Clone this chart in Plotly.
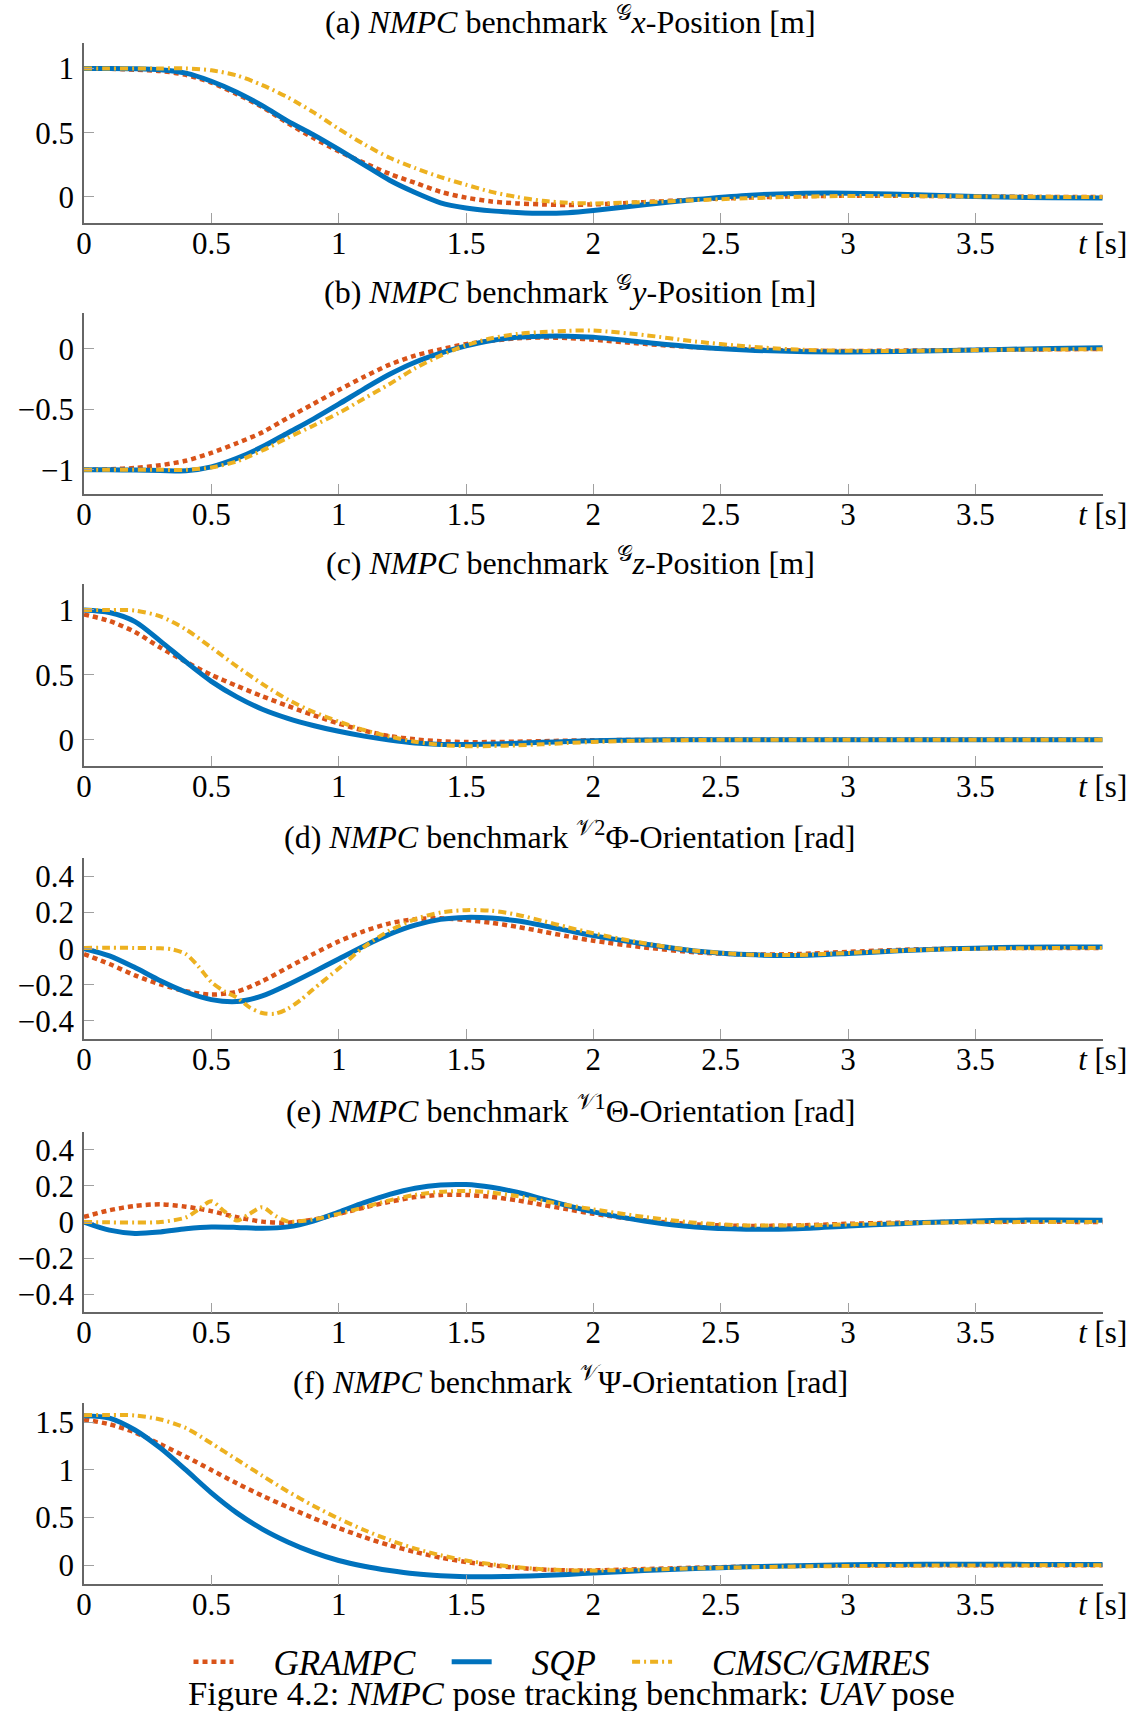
import plotly.graph_objects as go

W, H = 1136, 1711
FONT = "Liberation Serif"
C_GR = "#D95319"
C_SQP = "#0072BD"
C_CM = "#EDB120"

# ---------------- data ----------------
T = [0, 0.1, 0.2, 0.3, 0.4, 0.5, 0.6, 0.7, 0.8, 0.9, 1.0, 1.1, 1.2, 1.3, 1.4, 1.5,
     1.6, 1.7, 1.8, 1.9, 2.0, 2.2, 2.4, 2.6, 2.8, 3.0, 3.2, 3.4, 3.6, 3.8, 4.0]

# (a) x-position
a_gr = [1.0, 0.998, 0.99, 0.98, 0.95, 0.89, 0.80, 0.70, 0.575, 0.46, 0.355, 0.265, 0.18, 0.11, 0.04, -0.005,
        -0.035, -0.05, -0.058, -0.062, -0.058, -0.04, -0.02, -0.005, 0.005, 0.01, 0.01, 0.006, 0.003, 0.0, 0.0]
a_sqp = [1.0, 1.0, 0.998, 0.99, 0.963, 0.90, 0.815, 0.71, 0.59, 0.485, 0.37, 0.25, 0.13, 0.035, -0.045, -0.085,
         -0.108, -0.12, -0.127, -0.122, -0.105, -0.06, -0.02, 0.012, 0.028, 0.03, 0.022, 0.01, 0.0, -0.006, -0.008]
a_cm = [1.0, 1.0, 1.0, 1.0, 1.0, 0.985, 0.945, 0.87, 0.775, 0.66, 0.53, 0.41, 0.305, 0.225, 0.155, 0.095,
        0.04, 0.0, -0.03, -0.045, -0.05, -0.04, -0.025, -0.01, 0.002, 0.008, 0.008, 0.005, 0.003, 0.001, 0.0]

# (b) y-position
b_gr = [-1.0, -0.995, -0.985, -0.962, -0.925, -0.86, -0.78, -0.69, -0.57, -0.455, -0.34, -0.23, -0.13, -0.055,
        -0.003, 0.04, 0.068, 0.088, 0.095, 0.09, 0.077, 0.042, 0.014, -0.003, -0.013, -0.017, -0.014, -0.01,
        -0.006, -0.003, 0.0]
b_sqp = [-1.0, -1.0, -1.002, -1.005, -1.008, -0.975, -0.905, -0.81, -0.695, -0.58, -0.457, -0.33, -0.21, -0.11,
         -0.035, 0.025, 0.07, 0.096, 0.105, 0.106, 0.098, 0.055, 0.016, -0.008, -0.022, -0.025, -0.02, -0.012,
         -0.004, 0.004, 0.01]
b_cm = [-1.0, -1.0, -1.0, -1.0, -1.0, -0.98, -0.93, -0.84, -0.735, -0.635, -0.53, -0.41, -0.29, -0.16,
        -0.055, 0.03, 0.088, 0.124, 0.14, 0.15, 0.152, 0.115, 0.062, 0.022, -0.005, -0.015, -0.016, -0.012,
        -0.007, -0.004, -0.002]

# (c) z-position
c_gr = [0.965, 0.915, 0.83, 0.71, 0.60, 0.50, 0.415, 0.335, 0.26, 0.19, 0.125, 0.07, 0.028, 0.003, -0.012,
        -0.018, -0.018, -0.015, -0.011, -0.007, -0.004, -0.002, 0.0, 0.0, 0.0, 0.0, 0.0, 0.0, 0.0, 0.0, 0.0]
c_sqp = [1.0, 0.98, 0.91, 0.76, 0.60, 0.45, 0.33, 0.235, 0.165, 0.11, 0.065, 0.028, -0.002, -0.025, -0.036,
         -0.037, -0.033, -0.027, -0.02, -0.013, -0.007, -0.002, 0.0, 0.0, 0.0, 0.0, 0.0, 0.0, 0.0, 0.0, 0.0]
c_cm = [1.0, 1.0, 0.995, 0.95, 0.85, 0.71, 0.565, 0.43, 0.31, 0.215, 0.14, 0.075, 0.025, -0.015, -0.04, -0.05,
        -0.048, -0.043, -0.035, -0.025, -0.017, -0.007, -0.002, 0.0, 0.0, 0.0, 0.0, 0.0, 0.0, 0.0, 0.0]

# (d) roll
d_gr = [-0.03, -0.085, -0.148, -0.198, -0.235, -0.254, -0.238, -0.18, -0.105, -0.03, 0.04, 0.097, 0.14, 0.163,
        0.168, 0.158, 0.143, 0.121, 0.095, 0.068, 0.044, 0.007, -0.02, -0.032, -0.03, -0.018, -0.007, 0.0,
        0.003, 0.004, 0.004]
d_sqp = [0.0, -0.04, -0.105, -0.178, -0.24, -0.282, -0.293, -0.262, -0.2, -0.13, -0.057, 0.015, 0.08, 0.13,
         0.162, 0.173, 0.169, 0.154, 0.128, 0.1, 0.072, 0.026, -0.013, -0.033, -0.038, -0.027, -0.012, -0.001,
         0.006, 0.009, 0.009]
T_D_CM = [0, 0.1, 0.2, 0.3, 0.35, 0.4, 0.45, 0.5, 0.55, 0.6, 0.65, 0.7, 0.75, 0.8, 0.85, 0.9, 1.0, 1.1, 1.2,
          1.3, 1.4, 1.5, 1.6, 1.7, 1.8, 1.9, 2.0, 2.2, 2.4, 2.6, 2.8, 3.0, 3.2, 3.4, 3.6, 3.8, 4.0]
d_cm = [0.004, 0.005, 0.004, 0.002, -0.005, -0.03, -0.1, -0.185, -0.235, -0.27, -0.325, -0.356, -0.36, -0.333,
        -0.285, -0.225, -0.11, 0.01, 0.1, 0.163, 0.2, 0.213, 0.21, 0.188, 0.154, 0.118, 0.085, 0.03, -0.011,
        -0.033, -0.035, -0.024, -0.011, -0.003, 0.001, 0.003, 0.004]

# (e) pitch
e_gr = [0.028, 0.065, 0.089, 0.098, 0.085, 0.06, 0.027, 0.002, -0.004, 0.013, 0.045, 0.08, 0.112, 0.138, 0.15,
        0.15, 0.139, 0.12, 0.095, 0.07, 0.046, 0.009, -0.013, -0.022, -0.019, -0.01, -0.004, 0.0, 0.001, 0.001,
        0.0]
e_sqp = [0.0, -0.045, -0.063, -0.055, -0.038, -0.028, -0.03, -0.035, -0.027, 0.005, 0.055, 0.107, 0.153, 0.187,
         0.205, 0.207, 0.192, 0.165, 0.128, 0.09, 0.056, 0.006, -0.028, -0.04, -0.037, -0.022, -0.009, 0.002,
         0.009, 0.011, 0.009]
T_E_CM = [0, 0.1, 0.2, 0.3, 0.4, 0.45, 0.5, 0.55, 0.6, 0.65, 0.7, 0.75, 0.8, 0.9, 1.0, 1.1, 1.2, 1.3, 1.4, 1.5,
          1.6, 1.7, 1.8, 1.9, 2.0, 2.2, 2.4, 2.6, 2.8, 3.0, 3.2, 3.4, 3.6, 3.8, 4.0]
e_cm = [0.0, -0.002, -0.003, 0.0, 0.025, 0.07, 0.115, 0.06, 0.008, 0.045, 0.082, 0.035, 0.003, 0.014, 0.045,
        0.082, 0.12, 0.15, 0.167, 0.172, 0.163, 0.144, 0.117, 0.093, 0.07, 0.028, -0.004, -0.019, -0.019, -0.013,
        -0.007, -0.003, -0.001, 0.0, 0.0]

# (f) yaw
f_gr = [1.53, 1.48, 1.395, 1.27, 1.14, 1.0, 0.86, 0.73, 0.61, 0.495, 0.39, 0.295, 0.21, 0.14, 0.08, 0.035,
        0.0, -0.027, -0.045, -0.054, -0.054, -0.04, -0.026, -0.015, -0.007, -0.003, -0.001, 0.0, 0.0, 0.0, 0.0]
f_sqp = [1.57, 1.545, 1.42, 1.23, 1.0, 0.76, 0.55, 0.38, 0.245, 0.135, 0.05, -0.01, -0.055, -0.09, -0.11,
         -0.12, -0.12, -0.116, -0.108, -0.096, -0.082, -0.056, -0.035, -0.017, -0.004, 0.005, 0.009, 0.01,
         0.01, 0.008, 0.007]
f_cm = [1.575, 1.578, 1.572, 1.53, 1.44, 1.28, 1.11, 0.94, 0.775, 0.625, 0.49, 0.37, 0.265, 0.175, 0.105, 0.05,
        0.01, -0.02, -0.042, -0.053, -0.056, -0.045, -0.033, -0.022, -0.013, -0.008, -0.005, -0.003, -0.002,
        -0.001, 0.0]

TITLES = [
    "(a) <i>NMPC</i> benchmark <sup>𝒢</sup><i>x</i>-Position [m]",
    "(b) <i>NMPC</i> benchmark <sup>𝒢</sup><i>y</i>-Position [m]",
    "(c) <i>NMPC</i> benchmark <sup>𝒢</sup><i>z</i>-Position [m]",
    "(d) <i>NMPC</i> benchmark <sup>𝒱2</sup>Φ-Orientation [rad]",
    "(e) <i>NMPC</i> benchmark <sup>𝒱1</sup>Θ-Orientation [rad]",
    "(f) <i>NMPC</i> benchmark <sup>𝒱</sup>Ψ-Orientation [rad]",
]
Y_RANGES = [[-0.2, 1.2], [-1.2, 0.3], [-0.2, 1.2], [-0.5, 0.5], [-0.5, 0.5], [-0.2, 1.7]]
Y_TICKS = [[0, 0.5, 1], [-1, -0.5, 0], [0, 0.5, 1], [-0.4, -0.2, 0, 0.2, 0.4],
           [-0.4, -0.2, 0, 0.2, 0.4], [0, 0.5, 1, 1.5]]
Y_LABELS = [["0", "0.5", "1"], ["−1", "−0.5", "0"], ["0", "0.5", "1"],
            ["−0.4", "−0.2", "0", "0.2", "0.4"], ["−0.4", "−0.2", "0", "0.2", "0.4"],
            ["0", "0.5", "1", "1.5"]]
X_TICKS = [0, 0.5, 1, 1.5, 2, 2.5, 3, 3.5, 4]
X_LABELS = ["0", "0.5", "1", "1.5", "2", "2.5", "3", "3.5", "<i>t</i> [s]"]
NB = "&nbsp;"
SERIES_NAMES = [NB * 4 + "<i>GRAMPC</i>" + NB * 3,
                NB * 4 + "<i>SQP</i>" + NB * 3,
                NB * 4 + "<i>CMSC/GMRES</i>"]

panels = [
    (T, a_gr, T, a_sqp, T, a_cm),
    (T, b_gr, T, b_sqp, T, b_cm),
    (T, c_gr, T, c_sqp, T, c_cm),
    (T, d_gr, T, d_sqp, T_D_CM, d_cm),
    (T, e_gr, T, e_sqp, T_E_CM, e_cm),
    (T, f_gr, T, f_sqp, T, f_cm),
]

# ---------------- layout (pixels) ----------------
TOPS = [42.7, 312.7, 584.0, 858.3, 1131.7, 1403.3]
BOTS = [222.7, 494.0, 765.7, 1039.0, 1312.3, 1584.3]
X0, X1 = 84.0, 1102.7

def py(p):
    return 1 - p / H

fig = go.Figure()
for i, (tg, vg, ts, vs, tc, vc) in enumerate(panels):
    n = "" if i == 0 else str(i + 1)
    xa, ya = "x" + n, "y" + n
    fig.add_trace(go.Scatter(x=tg, y=vg, mode="lines", xaxis=xa, yaxis=ya, name=SERIES_NAMES[0],
                             legendgroup="g", showlegend=(i == 0),
                             line=dict(color=C_GR, width=4.5, dash="5px,4px", shape="spline", smoothing=0.8)))
    fig.add_trace(go.Scatter(x=ts, y=vs, mode="lines", xaxis=xa, yaxis=ya, name=SERIES_NAMES[1],
                             legendgroup="s", showlegend=(i == 0),
                             line=dict(color=C_SQP, width=5, shape="spline", smoothing=0.8)))
    fig.add_trace(go.Scatter(x=tc, y=vc, mode="lines", xaxis=xa, yaxis=ya, name=SERIES_NAMES[2],
                             legendgroup="c", showlegend=(i == 0),
                             line=dict(color=C_CM, width=4, dash="8px,4px,2px,4px", shape="spline",
                                       smoothing=0.8)))
    axis_common = dict(showline=True, linecolor="#666666", linewidth=1.5, ticks="inside", ticklen=10,
                       tickcolor="#a0a0a0", tickwidth=1.2, showgrid=False, zeroline=False, automargin=False,
                       tickfont=dict(family=FONT, size=31, color="black"))
    fig.layout["xaxis" + n] = dict(domain=[X0 / W, X1 / W], range=[0, 4], anchor=ya,
                                   tickvals=X_TICKS, ticktext=X_LABELS, ticklabelstandoff=-8,
                                   **axis_common)
    fig.layout["yaxis" + n] = dict(domain=[py(BOTS[i]), py(TOPS[i])], range=Y_RANGES[i], anchor=xa,
                                   tickvals=Y_TICKS[i], ticktext=Y_LABELS[i], ticklabelstandoff=2,
                                   **axis_common)
    fig.add_annotation(text=TITLES[i], x=570 / W, y=py(TOPS[i] - 23), xref="paper", yref="paper",
                       showarrow=False, xanchor="center", yanchor="middle",
                       font=dict(family=FONT, size=32, color="black"))

fig.add_annotation(text="Figure 4.2: <i>NMPC</i> pose tracking benchmark: <i>UAV</i> pose",
                   x=571 / W, y=py(1693), xref="paper", yref="paper", showarrow=False,
                   xanchor="center", yanchor="middle", font=dict(family=FONT, size=34.5, color="black"))

fig.update_layout(
    width=W, height=H, margin=dict(l=0, r=0, t=0, b=0),
    paper_bgcolor="white", plot_bgcolor="white",
    font=dict(family=FONT, size=31, color="black"),
    legend=dict(orientation="h", x=562 / W, y=py(1662), xanchor="center", yanchor="middle",
                font=dict(family=FONT, size=35, color="black"), bgcolor="rgba(0,0,0,0)",
                itemwidth=40, tracegroupgap=0),
)

fig.write_html("out.html")
